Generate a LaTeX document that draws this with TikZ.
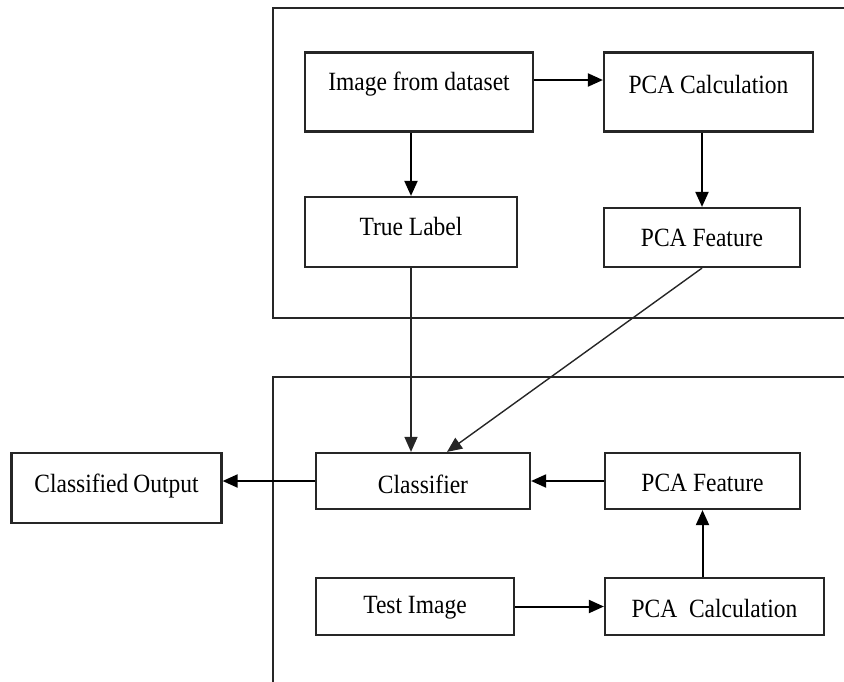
\documentclass[tikz,border=0pt]{standalone}
\usepackage{fontspec}
\setmainfont{Liberation Serif}
\usetikzlibrary{arrows.meta}
\tikzset{
  box/.style={draw=black!85, line width=2.2pt, inner sep=0pt},
  txt/.style={inner sep=0pt, font=\fontsize{23.5}{26}\selectfont},
  frame/.style={draw=black!85, line width=2.2pt},
  arr/.style={draw=black, line width=2pt, -{Triangle[length=15pt,width=13pt]}},
  thin/.style={draw=black!85, line width=1.4pt, -{Triangle[length=15pt,width=13pt]}}
}
\newcommand{\tall}[1]{\scalebox{1}[1.12]{#1}}
\begin{document}
\begin{tikzpicture}[x=1pt,y=-1pt]
\useasboundingbox (0,0) rectangle (844,681);
% containers
\draw[frame] (850,8) -- (273,8) -- (273,318) -- (850,318);
\draw[frame] (850,377) -- (273,377) -- (273,690);
% top boxes
\node[box, minimum width=228pt, minimum height=79pt] (img) at (419,92) {};
\node[txt] (imgt) at (419,84) {\tall{Image from dataset}};
\node[box, minimum width=209pt, minimum height=79pt] (pc) at (708.5,92) {};
\node[txt] (pct) at (708.5,84) {\tall{PCA Calculation}};
\node[box, minimum width=212pt, minimum height=70pt] (tl) at (411,232) {};
\node[txt] (tlt) at (411,226) {\tall{True Label}};
\node[box, minimum width=196pt, minimum height=59pt] (pf) at (702,237.5) {};
\node[txt] (pft) at (702,238) {\tall{PCA Feature}};
% bottom boxes
\node[box, minimum width=210pt, minimum height=70pt] (out) at (116.5,488) {};
\node[txt] (outt) at (116.5,486) {\tall{Classified\hspace{-1pt} Output}};
\node[box, minimum width=214pt, minimum height=56pt] (cls) at (423,481) {};
\node[txt] (clst) at (423,484) {\tall{Classifier}};
\node[box, minimum width=195pt, minimum height=56pt] (pf2) at (702.5,481) {};
\node[txt] (pf2t) at (702.5,483) {\tall{PCA Feature}};
\node[box, minimum width=198pt, minimum height=57pt] (test) at (415,606.5) {};
\node[txt] (testt) at (415,608) {\tall{Test Image}};
\node[box, minimum width=219pt, minimum height=57pt] (pc2) at (714.5,606.5) {};
\node[txt] (pc2t) at (714.5,608) {\tall{PCA\ \ Calculation}};
% connectors
\draw[arr] ([yshift=12pt]img.east) -- ([yshift=12pt]pc.west);
\draw[arr] (tl.north |- img.south) -- (tl.north);
\draw[arr] (pf.north |- pc.south) -- (pf.north);
\draw[thin] (tl.south) -- (tl.south |- cls.north);
\draw[thin] (pf.south) -- ([xshift=24pt]cls.north);
\draw[arr] (pf2.west) -- (cls.east);
\draw[arr] (cls.west) -- (cls.west -| out.east);
\draw[arr] (pf2.south |- pc2.north) -- (pf2.south);
\draw[arr] (test.east) -- (pc2.west);
\end{tikzpicture}
\end{document}
